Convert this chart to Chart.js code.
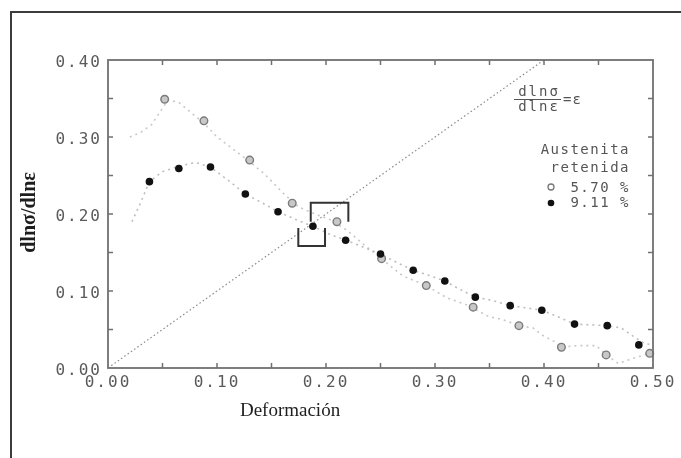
<!DOCTYPE html>
<html>
<head>
<meta charset="utf-8">
<script src="https://cdn.jsdelivr.net/npm/chart.js@4/dist/chart.umd.min.js"></script>
<style>
  html, body { margin: 0; padding: 0; background: #fff; }
  #wrap { width: 681px; height: 458px; position: relative; }
</style>
</head>
<body>
<div id="wrap"><canvas id="chart"></canvas></div>
<script>
// axis ticks
const xTickValues = [0, 0.1, 0.2, 0.3, 0.4, 0.5];
const yTickValues = [0, 0.1, 0.2, 0.3, 0.4];
const xTickMarks = [0.05, 0.1, 0.15, 0.2, 0.25, 0.3, 0.35, 0.4, 0.45];
const yTickMarks = [0.05, 0.1, 0.15, 0.2, 0.25, 0.3, 0.35];

// legend entries
const seriesNames = ['5.70 %', '9.11 %'];
const legendTitle = ['Austenita', 'retenida'];

// 5.70 % retained austenite: marked points
const def570 = [0.052, 0.088, 0.130, 0.169, 0.210, 0.251, 0.292, 0.335, 0.377, 0.416, 0.457, 0.497];
const n570 = [0.349, 0.321, 0.270, 0.214, 0.190, 0.142, 0.107, 0.079, 0.055, 0.027, 0.017, 0.019];

// 9.11 % retained austenite: marked points
const def911 = [0.038, 0.065, 0.094, 0.126, 0.156, 0.188, 0.218, 0.250, 0.280, 0.309, 0.337, 0.369, 0.398, 0.428, 0.458, 0.487];
const n911 = [0.242, 0.259, 0.261, 0.226, 0.203, 0.184, 0.166, 0.148, 0.127, 0.113, 0.092, 0.081, 0.075, 0.057, 0.055, 0.030];

// full measured curves (small dots)
const curveDef570 = [0.020, 0.030, 0.040, 0.048, 0.055, 0.065, 0.075, 0.088, 0.100, 0.115, 0.130, 0.145, 0.160, 0.175, 0.190, 0.205, 0.220, 0.235, 0.251, 0.270, 0.292, 0.311, 0.329, 0.349, 0.362, 0.377, 0.390, 0.398, 0.410, 0.416, 0.430, 0.448, 0.457, 0.468, 0.485, 0.497];
const curveN570 = [0.300, 0.306, 0.316, 0.333, 0.348, 0.345, 0.333, 0.318, 0.300, 0.284, 0.268, 0.250, 0.228, 0.209, 0.200, 0.192, 0.178, 0.160, 0.142, 0.120, 0.107, 0.091, 0.082, 0.067, 0.063, 0.055, 0.052, 0.043, 0.034, 0.027, 0.029, 0.029, 0.017, 0.006, 0.014, 0.019];

const curveDef911 = [0.022, 0.030, 0.038, 0.050, 0.065, 0.080, 0.094, 0.110, 0.126, 0.142, 0.156, 0.172, 0.188, 0.203, 0.218, 0.234, 0.250, 0.265, 0.280, 0.295, 0.309, 0.323, 0.337, 0.352, 0.369, 0.384, 0.398, 0.412, 0.428, 0.444, 0.458, 0.471, 0.482, 0.492, 0.500];
const curveN911 = [0.190, 0.215, 0.242, 0.255, 0.262, 0.267, 0.261, 0.244, 0.226, 0.214, 0.203, 0.193, 0.184, 0.174, 0.166, 0.157, 0.148, 0.137, 0.127, 0.120, 0.113, 0.102, 0.092, 0.088, 0.081, 0.078, 0.075, 0.067, 0.057, 0.056, 0.055, 0.052, 0.041, 0.032, 0.030];

// line dlnσ/dlnε = ε
const diagDef = [0, 0.40];
const diagN = [0, 0.40];

// brackets around the two intersections
const boxUpperDef = [0.186, 0.186, 0.2205, 0.2205];
const boxUpperN = [0.190, 0.2147, 0.2147, 0.190];
const boxLowerDef = [0.1746, 0.1746, 0.1991, 0.1991];
const boxLowerN = [0.1818, 0.1584, 0.1584, 0.1818];

const pts = (xs, ys) => xs.map((v, i) => ({ x: v, y: ys[i] }));

const monoFont = '"DejaVu Sans Mono", monospace';

const decor = {
  id: 'decor',
  beforeDraw(chart) {
    chart.ctx.letterSpacing = '2px';
  },
  afterDraw(chart) {
    const { ctx, chartArea: a, scales: { x, y } } = chart;
    ctx.save();
    ctx.letterSpacing = '0px';

    // outer frame
    ctx.strokeStyle = '#3c3c3c';
    ctx.lineWidth = 2;
    ctx.strokeRect(11, 12, 700, 480);

    // plot frame
    ctx.strokeStyle = '#707070';
    ctx.lineWidth = 1.8;
    ctx.strokeRect(a.left, a.top, a.width, a.height);

    // inward tick marks on all four sides
    ctx.lineWidth = 1.5;
    ctx.beginPath();
    xTickMarks.forEach(v => {
      const px = x.getPixelForValue(v);
      ctx.moveTo(px, a.bottom); ctx.lineTo(px, a.bottom - 5);
      ctx.moveTo(px, a.top); ctx.lineTo(px, a.top + 5);
    });
    yTickMarks.forEach(v => {
      const py = y.getPixelForValue(v);
      ctx.moveTo(a.left, py); ctx.lineTo(a.left + 5, py);
      ctx.moveTo(a.right, py); ctx.lineTo(a.right - 5, py);
    });
    ctx.stroke();

    // axis titles
    ctx.fillStyle = '#1e1e1e';
    ctx.font = '19px "Liberation Serif", serif';
    ctx.textAlign = 'center';
    ctx.textBaseline = 'middle';
    ctx.fillText('Deformación', x.getPixelForValue(0.167), 411);

    ctx.save();
    ctx.translate(30, y.getPixelForValue(0.202));
    ctx.rotate(-Math.PI / 2);
    ctx.font = 'bold 20px "Liberation Serif", serif';
    ctx.fillText('dlnσ/dlnε', 0, 0);
    ctx.restore();

    // fraction label for the diagonal
    ctx.fillStyle = '#555';
    ctx.font = '14px ' + monoFont;
    ctx.letterSpacing = '2px';
    ctx.textAlign = 'center';
    ctx.fillText('dlnσ', 539, 92);
    ctx.fillText('dlnε', 539, 107);
    ctx.strokeStyle = '#555';
    ctx.lineWidth = 1;
    ctx.beginPath();
    ctx.moveTo(514, 99.5); ctx.lineTo(561, 99.5);
    ctx.stroke();
    ctx.textAlign = 'left';
    ctx.letterSpacing = '1px';
    ctx.fillText('=ε', 563, 100);

    // legend
    ctx.font = '14px ' + monoFont;
    ctx.letterSpacing = '1.5px';
    ctx.textAlign = 'right';
    ctx.fillText(legendTitle[0], 630, 150);
    ctx.fillText(legendTitle[1], 630, 168);
    ctx.fillText(seriesNames[0], 630, 188);
    ctx.fillText(seriesNames[1], 630, 203);

    ctx.beginPath();
    ctx.arc(551, 187, 3, 0, Math.PI * 2);
    ctx.strokeStyle = '#777';
    ctx.lineWidth = 1.3;
    ctx.stroke();
    ctx.beginPath();
    ctx.arc(551, 203, 3.3, 0, Math.PI * 2);
    ctx.fillStyle = '#111';
    ctx.fill();

    ctx.restore();
  }
};

new Chart(document.getElementById('chart'), {
  type: 'scatter',
  data: {
    datasets: [
      {
        label: seriesNames[1],
        data: pts(def911, n911),
        showLine: false,
        pointRadius: 3.8,
        pointBackgroundColor: '#111',
        pointBorderColor: '#111',
        pointBorderWidth: 0,
        clip: false,
        order: 0
      },
      {
        label: seriesNames[0],
        data: pts(def570, n570),
        showLine: false,
        pointRadius: 3.8,
        pointBackgroundColor: '#c8c8c8',
        pointBorderColor: '#7a7a7a',
        pointBorderWidth: 1.4,
        clip: false,
        order: 1
      },
      {
        data: pts(boxUpperDef, boxUpperN),
        showLine: true,
        pointRadius: 0,
        borderColor: '#333',
        borderWidth: 2,
        order: 2
      },
      {
        data: pts(boxLowerDef, boxLowerN),
        showLine: true,
        pointRadius: 0,
        borderColor: '#333',
        borderWidth: 2,
        order: 2
      },
      {
        data: pts(curveDef911, curveN911),
        showLine: true,
        pointRadius: 0,
        borderColor: '#bdbdbd',
        borderWidth: 1.6,
        borderDash: [2, 4],
        order: 3
      },
      {
        data: pts(curveDef570, curveN570),
        showLine: true,
        pointRadius: 0,
        borderColor: '#c8c8c8',
        borderWidth: 1.6,
        borderDash: [2, 4],
        order: 3
      },
      {
        data: pts(diagDef, diagN),
        showLine: true,
        pointRadius: 0,
        borderColor: '#8a8a8a',
        borderWidth: 1.2,
        borderDash: [1.5, 2.5],
        order: 4
      }
    ]
  },
  options: {
    responsive: true,
    maintainAspectRatio: false,
    animation: false,
    layout: { padding: { left: 0, top: 60, right: 28, bottom: 0 } },
    plugins: { legend: { display: false }, tooltip: { enabled: false } },
    scales: {
      x: {
        type: 'linear',
        min: 0,
        max: 0.5,
        afterFit(s) { s.height = 90; },
        afterBuildTicks(s) { s.ticks = xTickValues.map(v => ({ value: v })); },
        grid: { display: false, drawTicks: false },
        border: { display: false },
        ticks: {
          padding: 5,
          color: '#5a5a5a',
          font: { family: monoFont, size: 16 },
          maxRotation: 0,
          autoSkip: false,
          callback: v => v.toFixed(2)
        }
      },
      y: {
        type: 'linear',
        min: 0,
        max: 0.4,
        afterFit(s) { s.width = 108; },
        afterBuildTicks(s) { s.ticks = yTickValues.map(v => ({ value: v })); },
        grid: { display: false, drawTicks: false },
        border: { display: false },
        ticks: {
          padding: 6,
          labelOffset: 3,
          color: '#5a5a5a',
          font: { family: monoFont, size: 16 },
          autoSkip: false,
          callback: v => v.toFixed(2)
        }
      }
    }
  },
  plugins: [decor]
});
</script>
</body>
</html>
